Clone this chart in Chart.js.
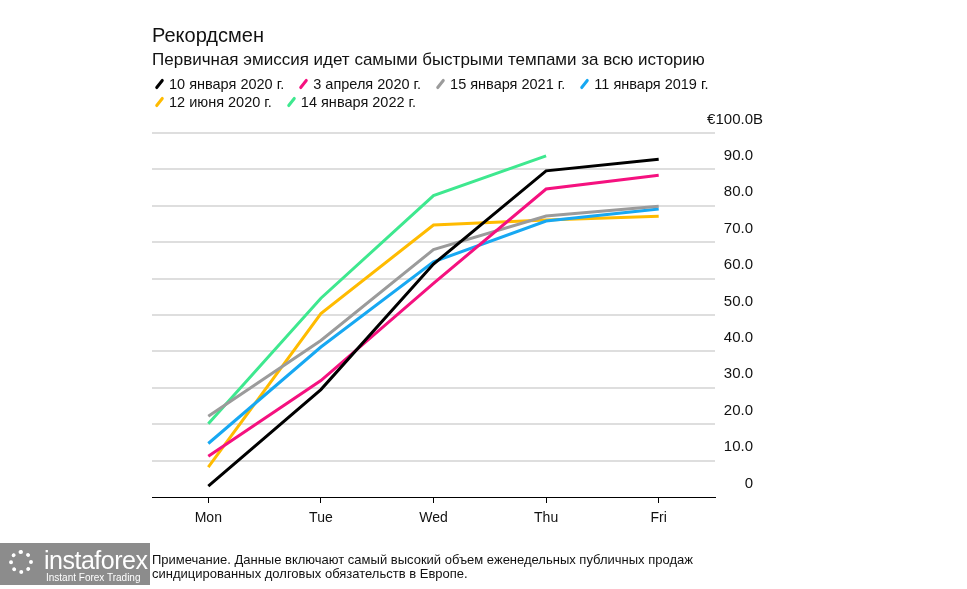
<!DOCTYPE html>
<html>
<head>
<meta charset="utf-8">
<script src="https://cdn.jsdelivr.net/npm/chart.js@4"></script>
<style>
  html, body { margin:0; padding:0; background:#fff; }
  body { width:967px; height:589px; position:relative; overflow:hidden; font-family:"Liberation Sans", Arial, Helvetica, sans-serif; color:#111; }
  #c { position:absolute; left:0; top:0; }
  .t { position:absolute; left:152px; white-space:nowrap; }
  #title { top:24px; font-size:20px; line-height:22px; }
  #sub { top:50px; font-size:17px; line-height:20px; }
  #legend { position:absolute; left:154px; top:75px; width:600px; font-size:14.5px; line-height:18px; }
  .li { display:inline-block; margin-right:14px; white-space:nowrap; }
  .mk { display:inline-block; width:3px; height:12px; border-radius:1.5px; transform:rotate(38deg); margin:0 8px 0 4px; vertical-align:-1px; }
  #foot { top:553px; font-size:13px; line-height:14px; color:#111; }
  #wm { position:absolute; left:0; top:543px; width:150px; height:42px; background:rgba(95,95,95,0.72); color:#fff; }
  #wm .a { position:absolute; left:44px; top:3px; font-size:25px; line-height:28px; font-weight:300; letter-spacing:-0.5px; }
  #wm .b { position:absolute; left:46px; top:29px; font-size:10px; line-height:11px; }
  #wm .g { position:absolute; left:9px; top:7px; width:24px; height:24px; border:4px dotted #fff; border-radius:50%; box-sizing:border-box; }
</style>
</head>
<body>
<canvas id="c" width="967" height="589"></canvas>
<div id="title" class="t">Рекордсмен</div>
<div id="sub" class="t">Первичная эмиссия идет самыми быстрыми темпами за всю историю</div>
<div id="legend"></div>
<div id="foot" class="t">Примечание. Данные включают самый высокий объем еженедельных публичных продаж<br>синдицированных долговых обязательств в Европе.</div>
<div id="wm"><div class="g"></div><div class="a">instaforex</div><div class="b">Instant Forex Trading</div></div>
<script>
// ---- data ----
const categories = ["Mon", "Tue", "Wed", "Thu", "Fri"];
const seriesNames = ["10 января 2020 г.", "3 апреля 2020 г.", "15 января 2021 г.", "11 января 2019 г.", "12 июня 2020 г.", "14 января 2022 г."];
const jan10_2020 = [3.0, 29.5, 64.0, 89.6, 92.8];
const apr3_2020  = [11.2, 32.0, 58.7, 84.6, 88.4];
const jan15_2021 = [22.2, 43.0, 68.0, 77.2, 79.9];
const jan11_2019 = [14.7, 41.2, 64.6, 75.8, 79.1];
const jun12_2020 = [8.2, 50.4, 74.7, 76.1, 77.1];
const jan14_2022 = [20.1, 54.6, 82.8, 93.7, null];
const yTickValues = [0, 10, 20, 30, 40, 50, 60, 70, 80, 90, 100];
const unitLabel = "€100.0B";

const colors = ["#000000", "#f5117f", "#9b9b9b", "#17a8f2", "#ffbb00", "#3ee88f"];
const values = [jan10_2020, apr3_2020, jan15_2021, jan11_2019, jun12_2020, jan14_2022];

// legend
const lg = document.getElementById('legend');
seriesNames.forEach((n, i) => {
  const s = document.createElement('span'); s.className = 'li';
  const m = document.createElement('span'); m.className = 'mk'; m.style.background = colors[i];
  s.appendChild(m); s.appendChild(document.createTextNode(n));
  lg.appendChild(s);
});

const FONT = '"Liberation Sans", Arial, Helvetica, sans-serif';

const unitPlugin = {
  id: 'unit',
  afterDraw(chart) {
    const ys = chart.scales.y;
    const ctx = chart.ctx;
    ctx.save();
    ctx.font = '15px ' + FONT;
    ctx.fillStyle = '#111';
    ctx.textBaseline = 'middle';
    ctx.textAlign = 'left';
    const num = unitLabel.slice(0, -1);
    const right = chart.chartArea.right + 38;
    const x = right - ctx.measureText(num).width;
    ctx.fillText(unitLabel, x, ys.getPixelForValue(100) - 13.5);
    ctx.restore();
  }
};

new Chart(document.getElementById('c'), {
  type: 'line',
  data: {
    labels: categories,
    datasets: values.map((v, i) => ({
      label: seriesNames[i],
      data: v,
      borderColor: colors[i],
      backgroundColor: colors[i],
      borderWidth: 3,
      pointRadius: 0,
      pointHoverRadius: 0,
      tension: 0,
      fill: false,
      spanGaps: false
    }))
  },
  options: {
    responsive: false,
    animation: false,
    devicePixelRatio: 1,
    layout: { padding: { left: 152, top: 133, right: 214, bottom: 62 } },
    plugins: { legend: { display: false }, tooltip: { enabled: false } },
    scales: {
      x: {
        type: 'category',
        offset: true,
        grid: { offset: false, drawOnChartArea: false, drawTicks: true, tickLength: 6, color: '#000', lineWidth: 1 },
        border: { display: true, color: '#000', width: 1 },
        ticks: { color: '#111', font: { size: 14, family: FONT }, padding: 7, maxRotation: 0 },
        afterFit(s) { s.height = 30; }
      },
      y: {
        position: 'right',
        min: 0, max: 100,
        afterBuildTicks(s) { s.ticks = yTickValues.map(v => ({ value: v })); },
        grid: {
          drawTicks: false,
          color: c => (c.tick && c.tick.value === 0) ? 'rgba(0,0,0,0)' : '#dedede',
          lineWidth: 2
        },
        border: { display: false },
        ticks: {
          color: '#111',
          font: { size: 15, family: FONT },
          padding: 9,
          crossAlign: 'far',
          labelOffset: -13.5,
          callback: v => v === 0 ? '0' : (v === 100 ? '' : Number(v).toFixed(1))
        },
        afterFit(s) { s.width = 38; }
      }
    }
  },
  plugins: [unitPlugin]
});
</script>
</body>
</html>
